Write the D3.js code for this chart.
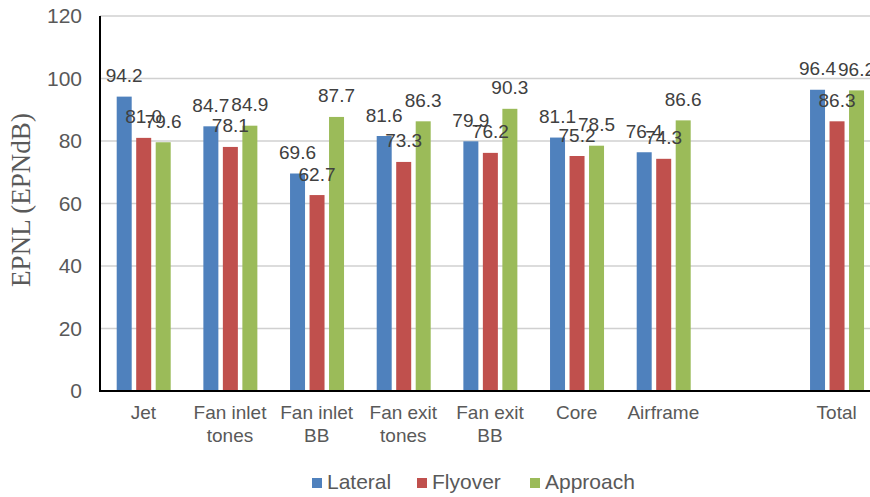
<!DOCTYPE html>
<html>
<head>
<meta charset="utf-8">
<script src="https://cdn.jsdelivr.net/npm/d3@7"></script>
<style>
  html, body { margin: 0; padding: 0; background: #fff; }
  svg { display: block; }
</style>
</head>
<body>
<svg id="chart" width="870" height="497"></svg>
<script>
// Noise source categories (the blank slot separates the components from the total)
const categories = ["Jet", "Fan inlet tones", "Fan inlet BB", "Fan exit tones", "Fan exit BB", "Core", "Airframe", "", "Total"];
const categoryLines = [["Jet"], ["Fan inlet", "tones"], ["Fan inlet", "BB"], ["Fan exit", "tones"], ["Fan exit", "BB"], ["Core"], ["Airframe"], [""], ["Total"]];

const seriesNames = ["Lateral", "Flyover", "Approach"];
const lateral  = [94.2, 84.7, 69.6, 81.6, 79.9, 81.1, 76.4, null, 96.4];
const flyover  = [81.0, 78.1, 62.7, 73.3, 76.2, 75.2, 74.3, null, 86.3];
const approach = [79.6, 84.9, 87.7, 86.3, 90.3, 78.5, 86.6, null, 96.2];
const yTicks = [0, 20, 40, 60, 80, 100, 120];

const colors = { Lateral: "#4F81BD", Flyover: "#C0504D", Approach: "#9BBB59" };
const seriesValues = { Lateral: lateral, Flyover: flyover, Approach: approach };

const svg = d3.select("#chart");
const W = 870;
const plotLeft = 100, plotTop = 16, plotBottom = 391;

const x = d3.scaleBand().domain(categories).range([plotLeft, 880]).padding(0);
const xs = d3.scaleBand().domain(seriesNames).range([16.7, 70.7]).paddingInner(0.2308).paddingOuter(0);
const y = d3.scaleLinear().domain([0, 120]).range([plotBottom, plotTop]);

// Horizontal gridlines
svg.append("g")
  .selectAll("line")
  .data(yTicks.filter(t => t > 0))
  .join("line")
  .attr("x1", plotLeft).attr("x2", W)
  .attr("y1", d => y(d)).attr("y2", d => y(d))
  .attr("stroke", "#d0d0d0").attr("stroke-width", 1.5);

// Y-axis tick labels
const yAxis = d3.axisLeft(y).tickValues(yTicks).tickSize(0).tickPadding(18).tickFormat(d3.format("d"));
const yg = svg.append("g").attr("transform", `translate(${plotLeft},0)`).call(yAxis);
yg.select(".domain").remove();
yg.selectAll("text")
  .attr("font-family", "Liberation Sans, Arial, sans-serif")
  .attr("font-size", 21)
  .attr("fill", "#595959");

// Bars
const rows = [];
categories.forEach((c, i) => {
  seriesNames.forEach(s => {
    const v = seriesValues[s][i];
    if (v != null) rows.push({ c, s, v });
  });
});

svg.append("g")
  .selectAll("rect")
  .data(rows)
  .join("rect")
  .attr("x", d => x(d.c) + xs(d.s))
  .attr("width", xs.bandwidth())
  .attr("y", d => y(d.v))
  .attr("height", d => y(0) - y(d.v))
  .attr("fill", d => colors[d.s]);

// Value labels above bars
svg.append("g")
  .selectAll("text")
  .data(rows)
  .join("text")
  .attr("x", d => x(d.c) + xs(d.s) + xs.bandwidth() / 2)
  .attr("y", d => y(d.v) - 14.5)
  .attr("text-anchor", "middle")
  .attr("font-family", "Liberation Sans, Arial, sans-serif")
  .attr("font-size", 19)
  .attr("fill", "#404040")
  .text(d => d3.format(".1f")(d.v));

// Axis lines
svg.append("line")
  .attr("x1", plotLeft).attr("x2", plotLeft).attr("y1", plotTop).attr("y2", plotBottom)
  .attr("stroke", "#000").attr("stroke-width", 2);
svg.append("line")
  .attr("x1", plotLeft - 1).attr("x2", W).attr("y1", plotBottom).attr("y2", plotBottom)
  .attr("stroke", "#000").attr("stroke-width", 2);

// Category labels
const xl = svg.append("g");
categories.forEach((c, i) => {
  const t = xl.append("text")
    .attr("x", x(c) + x.bandwidth() / 2)
    .attr("y", 419)
    .attr("text-anchor", "middle")
    .attr("font-family", "Liberation Sans, Arial, sans-serif")
    .attr("font-size", 19)
    .attr("fill", "#595959");
  categoryLines[i].forEach((line, j) => {
    t.append("tspan")
      .attr("x", x(c) + x.bandwidth() / 2)
      .attr("dy", j === 0 ? 0 : 22.5)
      .text(line);
  });
});

// Y-axis title
svg.append("text")
  .attr("transform", "translate(30,200) rotate(-90)")
  .attr("text-anchor", "middle")
  .attr("font-family", "Liberation Serif, Times New Roman, serif")
  .attr("font-size", 27)
  .attr("fill", "#595959")
  .text("EPNL (EPNdB)");

// Legend
const legendX = [312, 417, 530];
const lg = svg.append("g");
seriesNames.forEach((s, i) => {
  lg.append("rect")
    .attr("x", legendX[i]).attr("y", 478)
    .attr("width", 10).attr("height", 10)
    .attr("fill", colors[s]);
  lg.append("text")
    .attr("x", legendX[i] + 15).attr("y", 489)
    .attr("font-family", "Liberation Sans, Arial, sans-serif")
    .attr("font-size", 21)
    .attr("fill", "#595959")
    .text(s);
});
</script>
</body>
</html>
